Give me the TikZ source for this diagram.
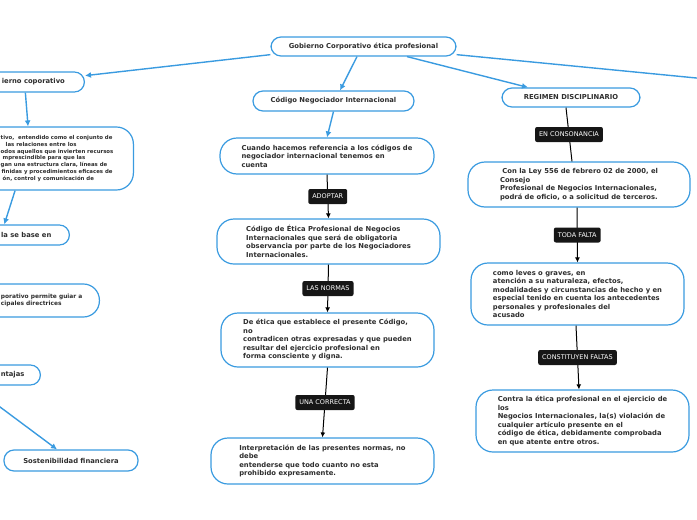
\documentclass[tikz,border=0pt]{standalone}
\usepackage{fontspec}
\setmainfont{DejaVu Sans}
\usetikzlibrary{arrows.meta,calc}
\definecolor{bl}{HTML}{3A9BE0}
\definecolor{txt}{HTML}{2E2E2E}
\definecolor{labfill}{HTML}{161616}
\tikzset{
 box/.style={draw=bl, line width=1.2pt, fill=white, rounded corners=10pt,
   font=\bfseries\fontsize{6.8}{8.5}\selectfont, text=txt, align=left, inner ysep=2pt},
 tall/.style={box, rounded corners=17pt},
 small/.style={font=\bfseries\fontsize{5.4}{6.7}\selectfont},
 mid/.style={font=\bfseries\fontsize{5.9}{7.6}\selectfont},
 conn/.style={draw=bl, line width=1.4pt, -{Latex[length=6pt,width=6pt]}},
 stub/.style={draw=bl, line width=1.4pt},
 chain/.style={draw=black, line width=1pt, -{Latex[length=5pt,width=5pt]}},
 plain/.style={draw=black, line width=1pt},
 lbl/.style={fill=labfill, text=white, rounded corners=2pt, font=\fontsize{6.5}{7.5}\selectfont,
   inner xsep=4pt, inner ysep=0pt, minimum height=15pt}
}
\begin{document}
\begin{tikzpicture}[x=1pt,y=-1pt]
\useasboundingbox (0,0) rectangle (697,520);
% top level
\node[box, minimum width=185pt, minimum height=19pt] (root) at (363.5,46.5) {Gobierno Corporativo ética profesional};
\node[box, minimum width=161pt, minimum height=20pt] (neg) at (333.5,101) {Código Negociador Internacional};
\node[box, minimum width=138pt, minimum height=19pt] (reg) at (571,97.5) {REGIMEN DISCIPLINARIO};
% left (partly off page)
\node[box, anchor=east, inner xsep=19.5pt, minimum height=20pt] (gob) at (85,82) {ierno coporativo};
\node[tall, small, anchor=east, inner xsep=20pt, minimum height=63pt] (b2) at (134,158.5)
 {tivo,\ \ entendido como el conjunto de\\\hspace*{5pt}las relaciones entre los\\odos aquellos que invierten recursos\\\hspace*{2pt}mprescindible para que las\\gan una estructura clara, líneas de\\\hspace*{1pt}finidas y procedimientos eficaces de\\\hspace*{2pt}ón, control y comunicación de};
\node[box, anchor=east, inner xsep=18pt, minimum height=20pt] (b3) at (70,235) {la se base en};
\node[tall, mid, anchor=east, inner xsep=17pt, minimum height=33pt, rounded corners=16pt] (b4) at (100,300.5)
 {porativo permite guiar a\\cipales directrices};
\node[box, anchor=east, inner xsep=16pt, minimum height=20pt] (b5) at (41,375) {ntajas};
\node[box, minimum width=134pt, minimum height=21pt] (sost) at (71,460.5) {Sostenibilidad financiera};
% middle
\node[tall, minimum width=214pt, minimum height=36pt] (cuando) at (327,156)
 {Cuando hacemos referencia a los códigos de\\negociador internacional tenemos en\\cuenta};
\node[tall, minimum width=223pt, minimum height=45pt] (etica) at (328.5,241.5)
 {Código de Ética Profesional de Negocios\\Internacionales que será de obligatoria\\observancia por parte de los Negociadores\\Internacionales.};
\node[tall, minimum width=213pt, minimum height=54pt] (deetica) at (327.5,340)
 {De ética que establece el presente Código,\\no\\contradicen otras expresadas y que pueden\\resultar del ejercicio profesional en\\forma consciente y digna.};
\node[tall, minimum width=223pt, minimum height=46pt] (interp) at (322.5,461)
 {Interpretación de las presentes normas, no\\debe\\entenderse que todo cuanto no esta\\prohibido expresamente.};
% right
\node[tall, minimum width=222pt, minimum height=45pt] (ley) at (579,184.5)
 {\ Con la Ley 556 de febrero 02 de 2000, el\\Consejo\\Profesional de Negocios Internacionales,\\podrá de oficio, o a solicitud de terceros.};
\node[tall, minimum width=213pt, minimum height=62pt] (leves) at (577.5,294)
 {como leves o graves, en\\atención a su naturaleza, efectos,\\modalidades y circunstancias de hecho y en\\especial tenido en cuenta los antecedentes\\personales y profesionales del\\acusado};
\node[tall, minimum width=213pt, minimum height=62pt] (contra) at (582.5,421)
 {Contra la ética profesional en el ejercicio de\\los\\Negocios Internacionales, la(s) violación de\\cualquier artículo presente en el\\código de ética, debidamente comprobada\\en que atente entre otros.};
% off-page ends
\coordinate (offR) at (720,80.3);
\coordinate (off3) at (-5,272);
\coordinate (off5) at (-10,399.5);
% blue connectors
\draw[conn] (root.185) -- (gob.7);
\draw[conn] (root.-5) -- (offR);
\draw[conn] ([xshift=-6.5pt]root.south) -- ([xshift=6.5pt]neg.north);
\draw[conn] ([xshift=43.5pt]root.south) -- ([xshift=-43pt]reg.north);
\draw[conn] ([xshift=-8pt]gob.south) -- ([xshift=-29pt]b2.north);
\draw[conn] ([xshift=-42pt]b2.south) -- ([xshift=-22pt]b3.north);
\draw[stub] ([xshift=-27pt]b3.south) -- (off3);
\draw[conn] (off5) -- ([xshift=-14pt]sost.north);
\draw[conn] (neg.south) -- (cuando.north);
% black chains
\draw[chain] (cuando.south) -- node[lbl]{ADOPTAR} (etica.north);
\draw[chain] (etica.south) -- node[lbl]{LAS NORMAS} (deetica.north);
\draw[chain] (deetica.south) -- node[lbl]{UNA CORRECTA} (interp.north);
\draw[plain] ([xshift=-5pt]reg.south) -- node[lbl]{EN CONSONANCIA} ([xshift=-7pt]ley.north);
\draw[chain] ([xshift=-2pt]ley.south) -- node[lbl]{TODA FALTA} (leves.north);
\draw[chain] ([xshift=-1.5pt]leves.south) -- node[lbl]{CONSTITUYEN FALTAS} ([xshift=-3.5pt]contra.north);
\end{tikzpicture}
\end{document}
